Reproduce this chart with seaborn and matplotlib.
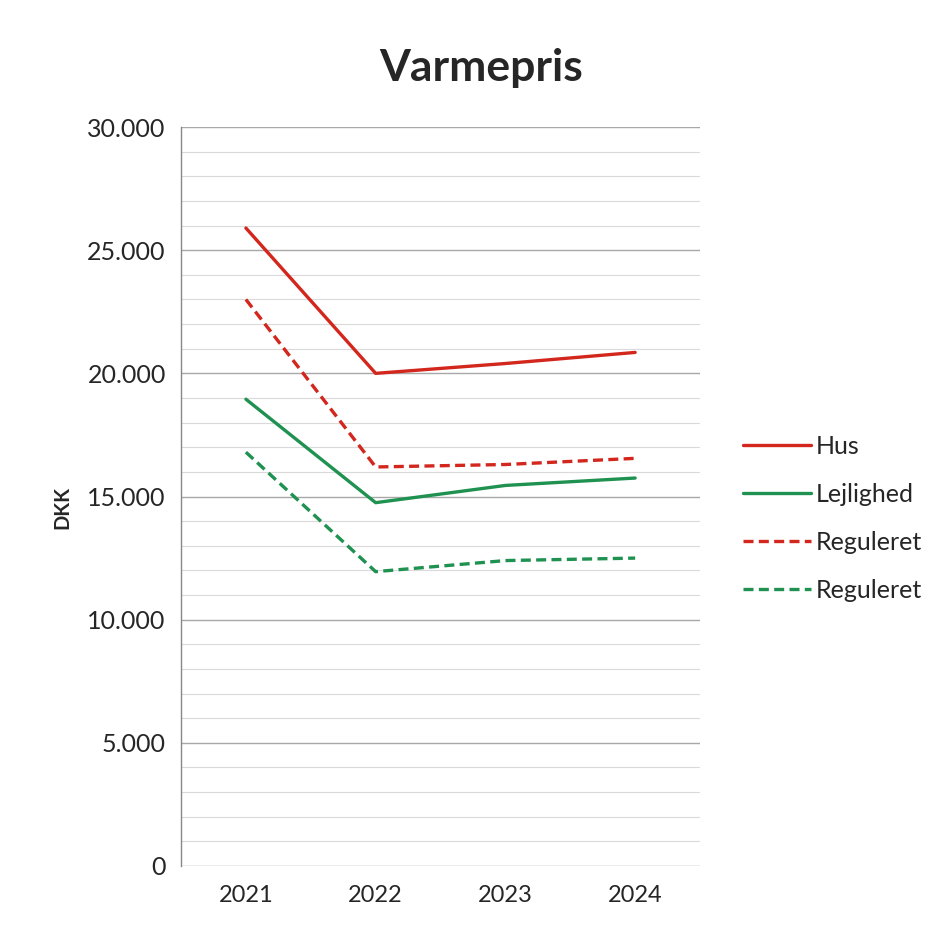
import numpy as np
import pandas as pd
import matplotlib.pyplot as plt
import seaborn as sns
from matplotlib.ticker import MultipleLocator, FuncFormatter

# data
years = ['2021', '2022', '2023', '2024']
hus = [25900, 20000, 20400, 20850]
lejlighed = [18950, 14750, 15450, 15750]
hus_reguleret = [23000, 16200, 16300, 16550]
lejlighed_reguleret = [16800, 11950, 12400, 12500]

series_names = ['Hus', 'Lejlighed', 'Reguleret', 'Reguleret ']
series_values = [hus, lejlighed, hus_reguleret, lejlighed_reguleret]

red = '#d3261c'
green = '#1f9150'
styles = {
    'Hus': (red, '-'),
    'Lejlighed': (green, '-'),
    'Reguleret': (red, (0, (3, 1.6))),
    'Reguleret ': (green, (0, (3, 1.6))),
}

sns.set_style('white')
plt.rcParams['font.family'] = ['Lato', 'DejaVu Sans']

fig = plt.figure(figsize=(9.39, 9.26), dpi=100)
ax = fig.add_axes([0.1928, 0.0648, 0.5527, 0.798])

x = np.arange(len(years))
for name, vals in zip(series_names, series_values):
    color, ls = styles[name]
    df = pd.DataFrame({'x': x, 'y': vals})
    sns.lineplot(data=df, x='x', y='y', ax=ax, color=color, linestyle=ls,
                 linewidth=2.4, label=name.strip())

ax.set_xlim(-0.5, len(years) - 0.5)
ax.set_ylim(0, 30000)
ax.set_xticks(x)
ax.set_xticklabels(years)
ax.yaxis.set_major_locator(MultipleLocator(5000))
ax.yaxis.set_minor_locator(MultipleLocator(1000))
ax.yaxis.set_major_formatter(FuncFormatter(lambda v, p: f'{int(v):,}'.replace(',', '.')))

ax.grid(which='major', axis='y', color='#a8a8a8', linewidth=1.0)
ax.grid(which='minor', axis='y', color='#dadada', linewidth=0.8)
ax.set_axisbelow(True)

for s in ['top', 'right', 'bottom']:
    ax.spines[s].set_visible(False)
ax.spines['left'].set_color('#888888')
ax.spines['left'].set_linewidth(1.0)

ax.tick_params(axis='y', which='major', length=5, color='#888888', labelsize=18, pad=6)
ax.tick_params(axis='y', which='minor', length=0)
ax.tick_params(axis='x', length=0, labelsize=17, pad=14)

ax.set_xlabel('')
ax.set_ylabel('DKK', fontsize=14.5, fontweight='bold')
ax.yaxis.set_label_coords(-0.21, 0.485)
fig.suptitle('Varmepris', x=0.512, y=0.948, fontsize=32, fontweight='bold')

ax.legend(loc='center left', bbox_to_anchor=(1.04, 0.47), frameon=False,
          fontsize=18, handlelength=2.7, handletextpad=0.2, labelspacing=1.0)

fig.savefig('out.png', dpi=100)
